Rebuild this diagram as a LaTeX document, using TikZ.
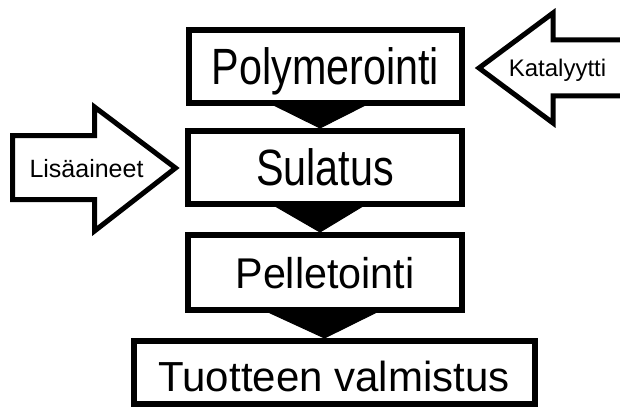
\documentclass[tikz,border=0pt]{standalone}
\usepackage{fontspec}
\setmainfont{Liberation Sans}
\usetikzlibrary{calc}
\begin{document}
\begin{tikzpicture}[x=1pt,y=-1pt,
  stepbox/.style={draw=black,line width=6pt,fill=white,inner sep=0pt,text depth=0pt},
  flowtri/.style={fill=black,draw=black,line width=1pt,line join=miter},
  blockarrow/.style={draw=black,line width=5pt,fill=white,line join=miter,miter limit=20},
  arrowtext/.style={inner sep=0pt,text depth=0pt}
]
\clip (0,0) rectangle (620,409);
\fill[white] (0,0) rectangle (620,409);

% boxes
\node[stepbox,minimum width=273pt,minimum height=73pt,text height=36.7pt] (p) at (325.5,66.5)
  {\fontsize{51}{51}\selectfont\scalebox{0.81}[1]{Polymerointi}};
\node[stepbox,minimum width=274pt,minimum height=73pt,text height=36.7pt] (s) at (325,167.5)
  {\fontsize{51}{51}\selectfont\scalebox{0.81}[1]{Sulatus}};
\node[stepbox,minimum width=274pt,minimum height=75pt,text height=31pt] (pe) at (325,272.5)
  {\fontsize{43}{43}\selectfont\scalebox{0.96}[1]{Pelletointi}};
\node[stepbox,minimum width=401pt,minimum height=63pt,text height=38pt] (t) at (334,372.5)
  {\fontsize{42}{42}\selectfont Tuotteen valmistus};

% connectors (black triangles)
\fill[flowtri] ($(p.south)+(-52,-1)$) -- ($(p.south)+(40,-1)$) -- ($(s.north)+(-5,0)$) -- cycle;
\fill[flowtri] ($(s.south)+(-50,-1)$) -- ($(s.south)+(38,-1)$) -- ($(pe.north)+(-5,0)$) -- cycle;
\fill[flowtri] ($(pe.south)+(-57,-1)$) -- ($(pe.south)+(52,-1)$) -- ($(t.north)+(-9.5,0)$) -- cycle;

% Katalyytti block arrow (pointing left)
\draw[blockarrow] (640,40) -- (553,40) -- (553,13) -- (479,68) -- (553,123) -- (553,96) -- (640,96);
\node[arrowtext,text height=17pt] (kat) at (557.5,68) {\fontsize{24}{24}\selectfont Katalyytti};

% Lisaaineet block arrow (pointing right)
\draw[blockarrow] (12.5,135.5) -- (94.5,135.5) -- (94.5,107) -- (175.5,168) -- (94.5,231) -- (94.5,199.5) -- (12.5,199.5) -- cycle;
\node[arrowtext,text height=17pt] (lis) at (86.5,168.5) {\fontsize{25}{25}\selectfont Lisäaineet};
\end{tikzpicture}
\end{document}
